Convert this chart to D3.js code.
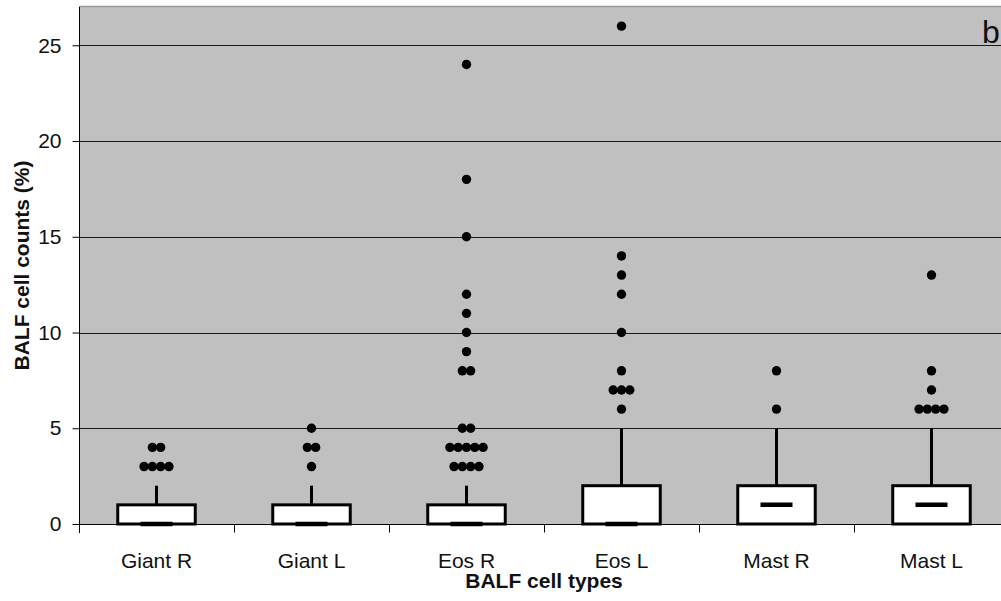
<!DOCTYPE html>
<html>
<head>
<meta charset="utf-8">
<script src="https://cdn.jsdelivr.net/npm/d3@7"></script>
<style>
  body { margin: 0; background: #fff; }
  svg { display: block; font-family: "Liberation Sans", Arial, sans-serif; }
</style>
</head>
<body>
<svg id="chart" width="1001" height="601"></svg>
<script>
// box plot data (% of BALF cells)
var categories = ["Giant R", "Giant L", "Eos R", "Eos L", "Mast R", "Mast L"];
var q1 = [0, 0, 0, 0, 0, 0];
var medians = [0, 0, 0, 0, 1, 1];
var q3 = [1, 1, 1, 2, 2, 2];
var whiskerHigh = [2, 2, 2, 5, 5, 5];
var outliers = [
    [3, 3, 3, 3, 4, 4],
    [3, 4, 4, 5],
    [3, 3, 3, 3, 4, 4, 4, 4, 4, 5, 5, 8, 8, 9, 10, 11, 12, 15, 18, 24],
    [6, 7, 7, 7, 8, 10, 12, 13, 14, 26],
    [6, 8],
    [6, 6, 6, 6, 7, 8, 13]
];
var yTicks = [0, 5, 10, 15, 20, 25];

var svg = d3.select("#chart");

var plotLeft = 79, plotRight = 1009, plotTop = 7, plotBottom = 524;

var x = d3.scaleBand()
    .domain(categories)
    .range([plotLeft, plotRight])
    .padding(0);

var y = d3.scaleLinear()
    .domain([0, 27])
    .range([plotBottom, plotTop]);

// plot background
svg.append("rect")
    .attr("x", plotLeft)
    .attr("y", plotTop)
    .attr("width", plotRight - plotLeft)
    .attr("height", plotBottom - plotTop)
    .attr("fill", "#c0c0c0");

svg.append("line")
    .attr("x1", plotLeft).attr("x2", plotRight)
    .attr("y1", plotTop - 0.5).attr("y2", plotTop - 0.5)
    .attr("stroke", "#9a9a9a")
    .attr("stroke-width", 1.5);

// grid lines
svg.append("g")
    .selectAll("line")
    .data(yTicks.filter(function (d) { return d > 0; }))
    .join("line")
    .attr("x1", plotLeft).attr("x2", plotRight)
    .attr("y1", function (d) { return Math.round(y(d)) + 0.5; })
    .attr("y2", function (d) { return Math.round(y(d)) + 0.5; })
    .attr("stroke", "#1a1a1a")
    .attr("stroke-width", 1);

// y axis
var yAxis = svg.append("g")
    .attr("transform", "translate(" + (plotLeft + 0.5) + ",0)")
    .call(d3.axisLeft(y).tickValues(yTicks).tickSize(7).tickPadding(11));
yAxis.select(".domain").attr("d", "M0," + plotTop + "V" + (plotBottom + 9)).attr("stroke", "#000");
yAxis.selectAll(".tick line").attr("stroke", "#000");
yAxis.selectAll(".tick text")
    .attr("font-size", 21)
    .attr("font-family", "Liberation Sans, Arial, sans-serif")
    .attr("fill", "#111");

// x axis: ticks sit between categories
var xAxis = svg.append("g")
    .attr("transform", "translate(0," + (plotBottom + 0.5) + ")");
xAxis.append("line")
    .attr("x1", plotLeft).attr("x2", plotRight)
    .attr("stroke", "#000");
xAxis.selectAll("line.tk")
    .data(categories.slice(1))
    .join("line")
    .attr("class", "tk")
    .attr("x1", function (d) { return Math.round(x(d)) + 0.5; })
    .attr("x2", function (d) { return Math.round(x(d)) + 0.5; })
    .attr("y1", 0).attr("y2", 8)
    .attr("stroke", "#000");
xAxis.selectAll("text")
    .data(categories)
    .join("text")
    .attr("x", function (d) { return x(d) + x.bandwidth() / 2; })
    .attr("y", 43)
    .attr("text-anchor", "middle")
    .attr("font-size", 21)
    .attr("fill", "#111")
    .text(function (d) { return d; });

// boxes
var boxW = x.bandwidth() * 0.5;
var medW = 32;
var groups = svg.append("g")
    .selectAll("g")
    .data(categories)
    .join("g")
    .attr("transform", function (d) { return "translate(" + (x(d) + x.bandwidth() / 2) + ",0)"; });

groups.append("line")
    .attr("x1", 0).attr("x2", 0)
    .attr("y1", function (d, i) { return y(q3[i]); })
    .attr("y2", function (d, i) { return y(whiskerHigh[i]); })
    .attr("stroke", "#000")
    .attr("stroke-width", 3);

groups.append("rect")
    .attr("x", -boxW / 2)
    .attr("width", boxW)
    .attr("y", function (d, i) { return y(q3[i]); })
    .attr("height", function (d, i) { return y(q1[i]) - y(q3[i]); })
    .attr("fill", "#fff")
    .attr("stroke", "#000")
    .attr("stroke-width", 3);

groups.append("line")
    .attr("x1", -medW / 2).attr("x2", medW / 2)
    .attr("y1", function (d, i) { return y(medians[i]); })
    .attr("y2", function (d, i) { return y(medians[i]); })
    .attr("stroke", "#000")
    .attr("stroke-width", 4.5);

// outlier dots, repeated values laid side by side
var dotGap = 8.3;
groups.each(function (d, i) {
    var counts = d3.rollups(outliers[i], function (v) { return v.length; }, function (v) { return v; });
    var pts = [];
    counts.forEach(function (c) {
        for (var k = 0; k < c[1]; k++) {
            pts.push({ v: c[0], dx: (k - (c[1] - 1) / 2) * dotGap });
        }
    });
    d3.select(this).selectAll("circle")
        .data(pts)
        .join("circle")
        .attr("cx", function (p) { return p.dx; })
        .attr("cy", function (p) { return y(p.v); })
        .attr("r", 4.7)
        .attr("fill", "#000");
});

// axis titles
svg.append("text")
    .attr("transform", "translate(29," + ((plotTop + plotBottom) / 2) + ") rotate(-90)")
    .attr("text-anchor", "middle")
    .attr("font-size", 21)
    .attr("font-weight", "bold")
    .attr("fill", "#111")
    .text("BALF cell counts (%)");

svg.append("text")
    .attr("x", 544)
    .attr("y", 588)
    .attr("text-anchor", "middle")
    .attr("font-size", 21)
    .attr("font-weight", "bold")
    .attr("fill", "#111")
    .text("BALF cell types");

// panel letter
svg.append("text")
    .attr("x", 982)
    .attr("y", 43)
    .attr("font-size", 32)
    .attr("fill", "#111")
    .text("b");
</script>
</body>
</html>
